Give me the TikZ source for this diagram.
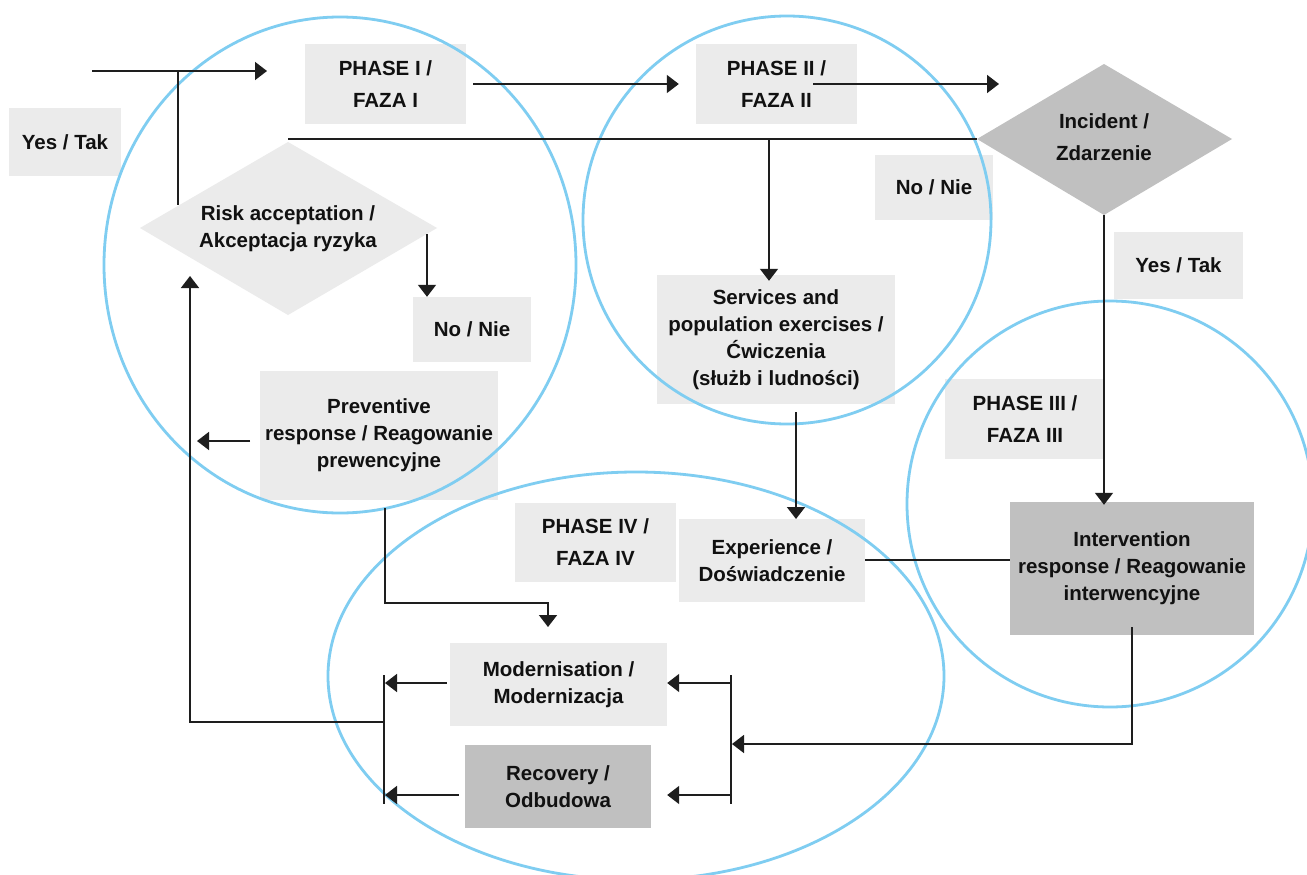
\documentclass[tikz,border=0pt]{standalone}
\usepackage{fontspec}
\setmainfont{Liberation Sans}
\usetikzlibrary{arrows.meta}

\definecolor{boxlight}{HTML}{EBEBEB}
\definecolor{boxdark}{HTML}{C0C0C0}
\definecolor{phasering}{HTML}{7FCDF1}
\definecolor{wirecol}{HTML}{1E1E1E}
\definecolor{inkcol}{HTML}{111111}

\tikzset{
  lbl/.style={font=\bfseries\fontsize{20.5}{27}\selectfont, align=center,
              inner sep=0pt, text=inkcol},
  phaselbl/.style={lbl, font=\bfseries\fontsize{20.5}{32}\selectfont},
  lightbox/.style={fill=boxlight},
  darkbox/.style={fill=boxdark},
  ring/.style={draw=phasering, line width=2.8pt},
  wire/.style={draw=wirecol, line width=1.7pt},
  arr/.style={wire, -{Triangle[length=12pt,width=18pt]}},
}

\begin{document}
\begin{tikzpicture}[x=1pt,y=-1pt]
\useasboundingbox (0,0) rectangle (1307,875);
\fill[white] (0,0) rectangle (1307,875);

% ---------- decision diamonds ----------
\coordinate (riskL) at (140,228);
\coordinate (riskT) at (288,142);
\coordinate (riskR) at (437,228);
\coordinate (riskB) at (288,315);
\fill[boxlight] (riskL) -- (riskT) -- (riskR) -- (riskB) -- cycle;
\node[lbl] (risk) at (288,229) {Risk acceptation /\\Akceptacja ryzyka};

\coordinate (incL) at (977,139);
\coordinate (incT) at (1104,64);
\coordinate (incR) at (1232,139);
\coordinate (incB) at (1104,215);
\fill[boxdark] (incL) -- (incT) -- (incR) -- (incB) -- cycle;
\node[phaselbl] (incident) at (1104,137) {Incident /\\Zdarzenie};

% ---------- boxes ----------
\node[lbl, lightbox, minimum width=112pt, minimum height=68pt] (yesL) at (65,142) {Yes / Tak};
\node[phaselbl, lightbox, minimum width=161pt, minimum height=80pt] (ph1) at (385.5,84) {PHASE I /\\FAZA I};
\node[phaselbl, lightbox, minimum width=161pt, minimum height=80pt] (ph2) at (776.5,84) {PHASE II /\\FAZA II};
\node[lbl, lightbox, minimum width=118pt, minimum height=65pt] (noR) at (934,187.5) {No / Nie};
\node[lbl, lightbox, minimum width=129pt, minimum height=67pt] (yesR) at (1178.5,265.5) {Yes / Tak};
\node[lbl, lightbox, minimum width=118pt, minimum height=65pt] (noL) at (472,329.5) {No / Nie};
\node[lbl, lightbox, minimum width=238pt, minimum height=129pt] (services) at (776,339.5)
  {Services and\\population exercises /\\Ćwiczenia\\(służb i ludności)};
\node[lbl, lightbox, minimum width=238pt, minimum height=129pt] (prev) at (379,435.5)
  {Preventive\\response / Reagowanie\\prewencyjne};
\node[phaselbl, lightbox, minimum width=160pt, minimum height=80pt] (ph3) at (1025,419) {PHASE III /\\FAZA III};
\node[phaselbl, lightbox, minimum width=161pt, minimum height=79pt] (ph4) at (595.5,542.5) {PHASE IV /\\FAZA IV};
\node[lbl, lightbox, minimum width=186pt, minimum height=83pt] (exp) at (772,560.5) {Experience /\\Doświadczenie};
\node[lbl, darkbox, minimum width=244pt, minimum height=133pt] (inter) at (1132,568.5)
  {Intervention\\response / Reagowanie\\interwencyjne};
\node[lbl, lightbox, minimum width=217pt, minimum height=83pt] (mod) at (558.5,684.5) {Modernisation /\\Modernizacja};
\node[lbl, darkbox, minimum width=186pt, minimum height=83pt] (rec) at (558,786.5) {Recovery /\\Odbudowa};

% ---------- phase rings ----------
\draw[ring] (340,265) ellipse [x radius=236pt, y radius=248pt];
\draw[ring] (787,220) ellipse [x radius=204pt, y radius=204pt];
\draw[ring] (1110,504) ellipse [x radius=203pt, y radius=203pt];
\draw[ring] (636,676) ellipse [x radius=308pt, y radius=204pt];

% ---------- junction points ----------
\coordinate (entry) at (92,71);
\coordinate (entryTip) at (267,71);
\coordinate (yesJoin) at (178,71);
\coordinate (riskEdge) at (178,205);
\coordinate (ph2Out) at (813,84);
\coordinate (incIn) at (999,84);
\coordinate (noJoin) at (769,139);
\coordinate (riskNo) at (427,234);
\coordinate (prevOut) at (250,441);
\coordinate (prevTip) at (197,441);
\coordinate (prevDown) at (385,508);
\coordinate (modIn) at (548,627);
\coordinate (servOut) at (796,412);
\coordinate (expIn) at (796,519);
\coordinate (rightBarT) at (731,675);
\coordinate (rightBarB) at (731,804);
\coordinate (leftBarT) at (384,675);
\coordinate (leftBarB) at (384,804);
\coordinate (leftBarMid) at (384,722);
\coordinate (riskIn) at (190,276);

% ---------- connectors ----------
\draw[arr] (entry) -- (entryTip);
\draw[wire] (yesJoin) -- (riskEdge);
\draw[arr] ([xshift=7pt]ph1.east |- 0,84) -- ([xshift=-17pt]ph2.west);
\draw[arr] (ph2Out) -- (incIn);
\draw[wire] (incL) -- (incL -| riskT);
\draw[arr] (noJoin) -- ([yshift=-6pt]noJoin |- services.north);
\draw[arr] (riskNo) -- (riskNo |- noL.north);
\draw[arr] (prevOut) -- (prevTip);
\draw[arr] (prevDown) -- (prevDown |- 0,603) -| (modIn);
\draw[arr] (servOut) -- (expIn);
\draw[wire] (exp.east |- 0,560) -- (inter.west |- 0,560);
\draw[arr] (incB) -- ([yshift=-3pt]incB |- inter.north);
\draw[arr] ([yshift=8pt]inter.south) |- ([xshift=1pt]rightBarT |- 0,744);
\draw[wire] (rightBarT) -- (rightBarB);
\draw[arr] (rightBarT |- 0,683) -- (mod.east |- 0,683);
\draw[arr] (rightBarT |- 0,795) -- ([xshift=16pt]rec.east |- 0,795);
\draw[wire] (leftBarT) -- (leftBarB);
\draw[arr] ([xshift=-3pt]mod.west |- 0,683) -- ([xshift=1pt]leftBarT |- 0,683);
\draw[arr] ([xshift=-6pt]rec.west |- 0,795) -- ([xshift=1pt]leftBarT |- 0,795);
\draw[arr] (leftBarMid) -| (riskIn);
\end{tikzpicture}
\end{document}
